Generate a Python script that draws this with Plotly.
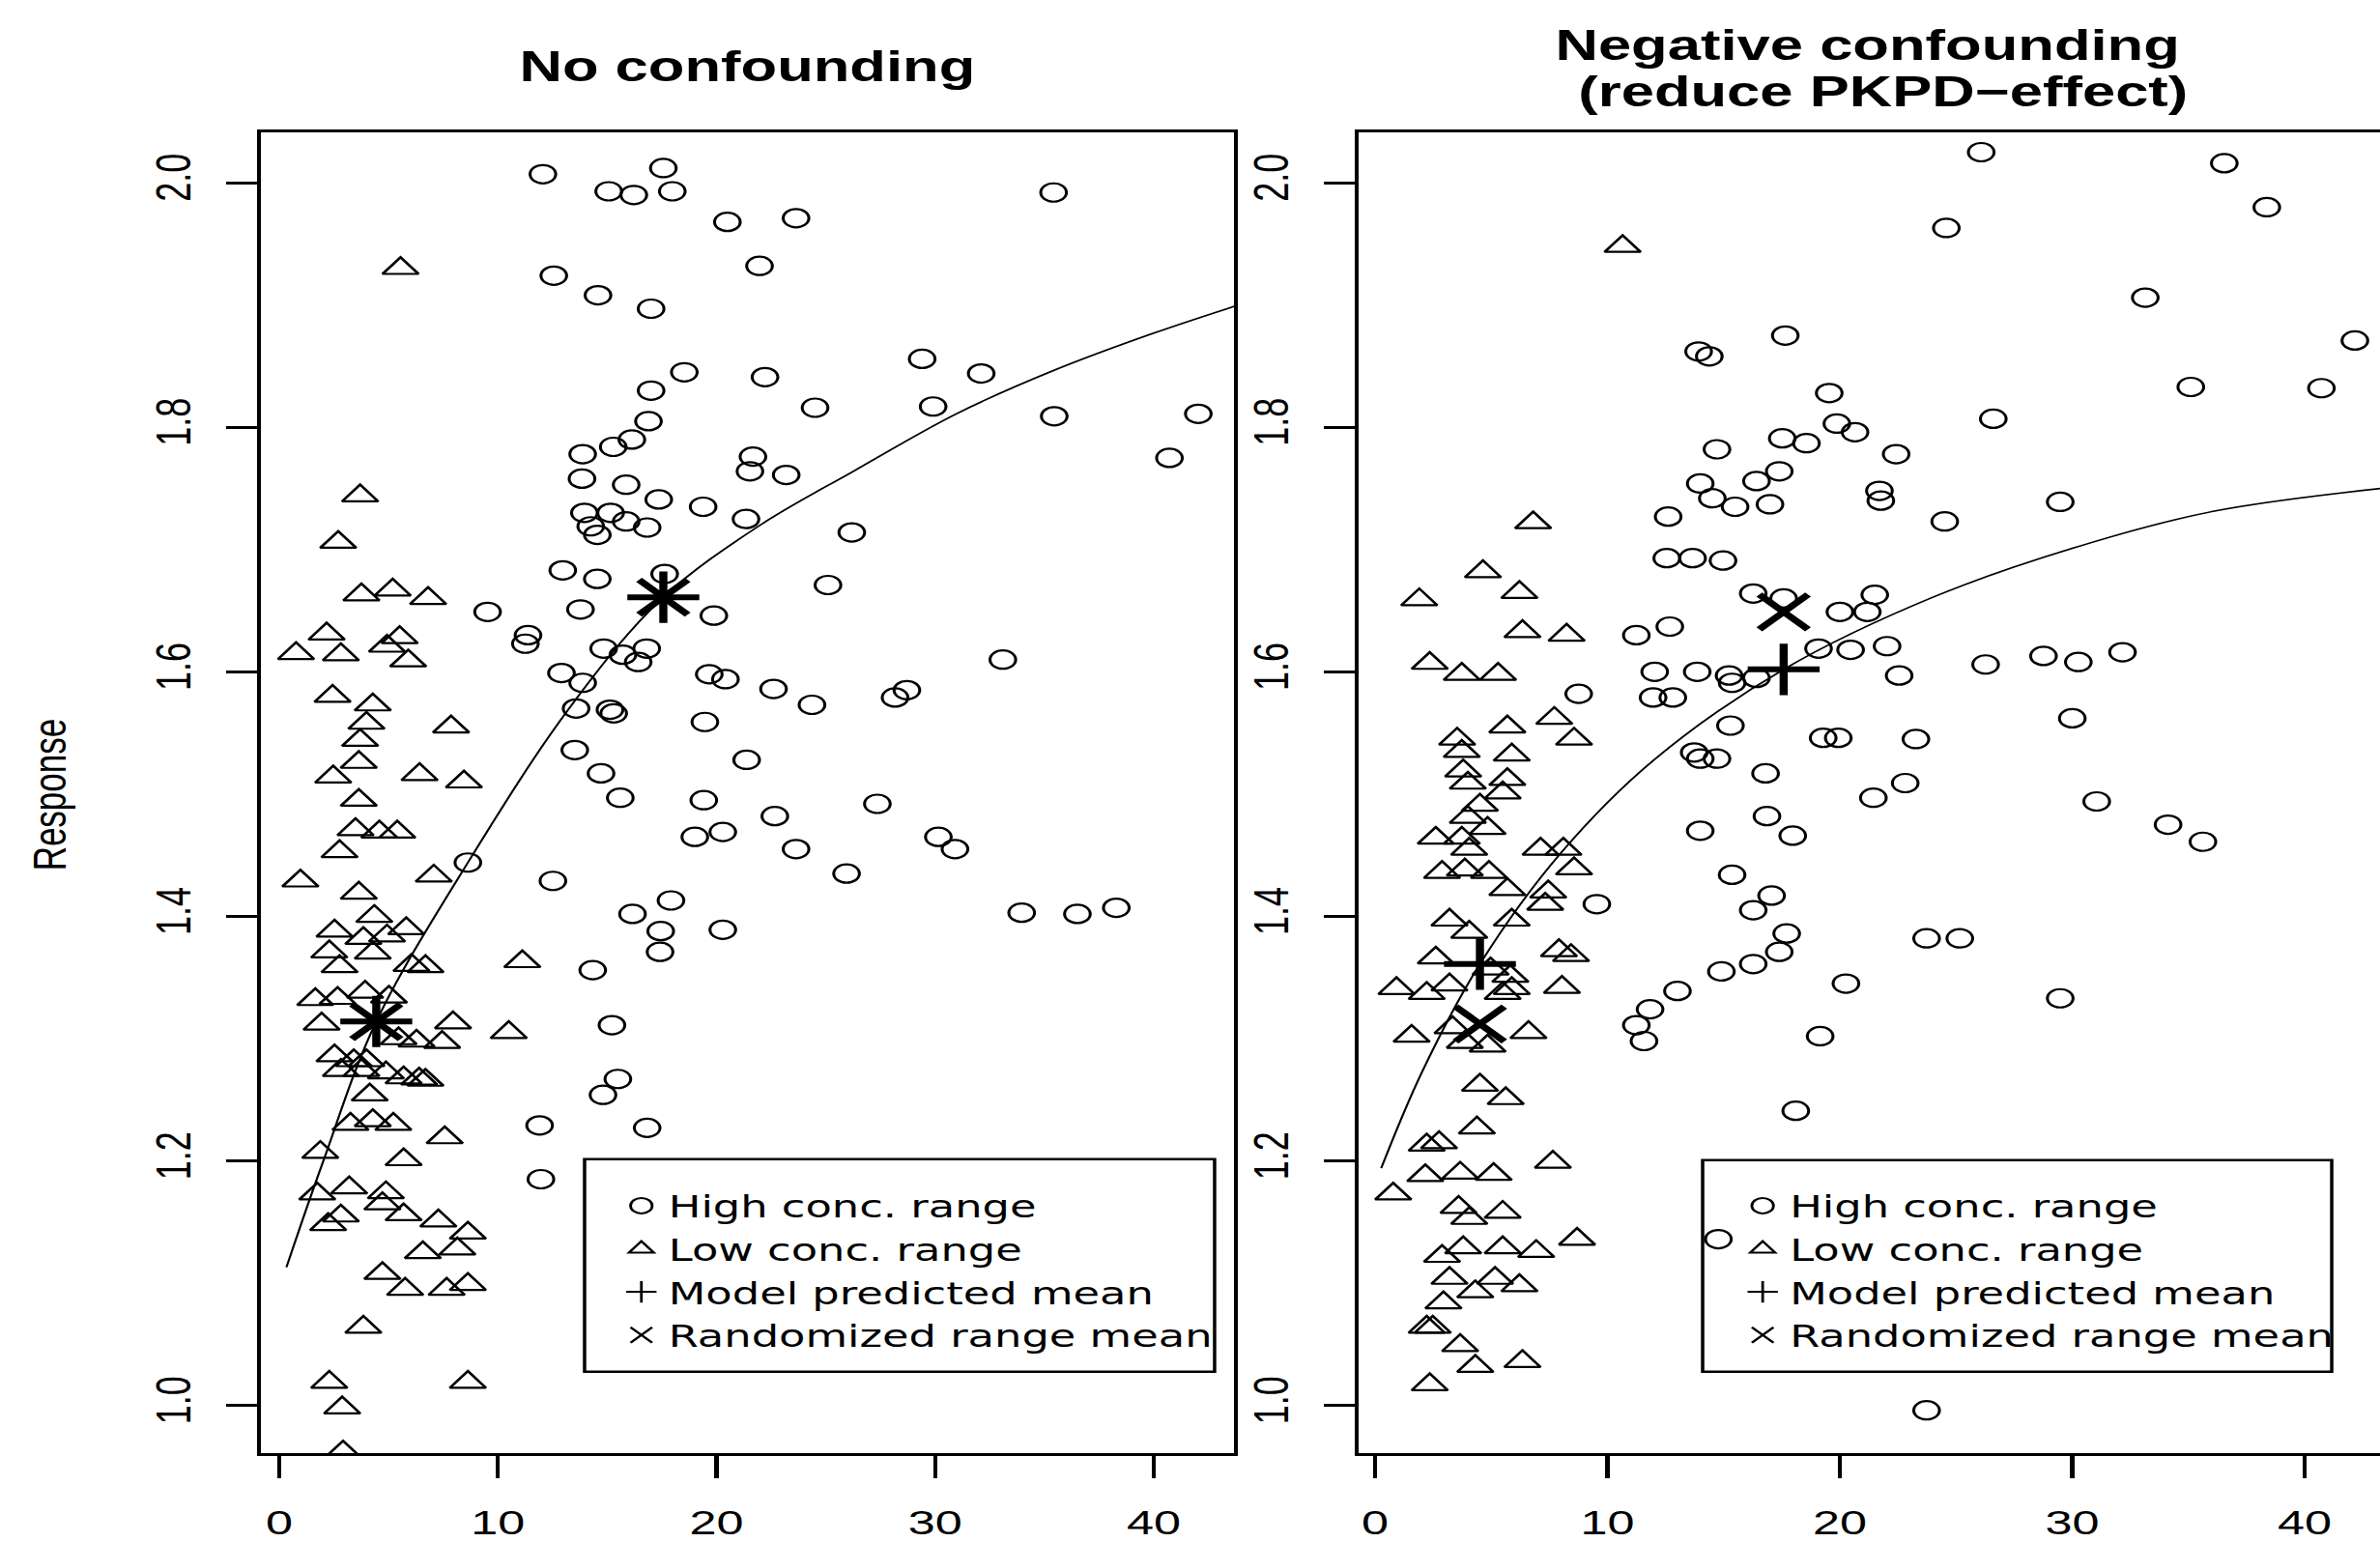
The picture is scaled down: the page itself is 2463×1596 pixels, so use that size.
import plotly.graph_objects as go

# ------------------------------------------------------------------ data
x_ticks = [0, 10, 20, 30, 40]
y_ticks = [1.0, 1.2, 1.4, 1.6, 1.8, 2.0]
legend_names = ["High conc. range", "Low conc. range", "Model predicted mean", "Randomized range mean"]

# Left panel: "No confounding"
left_high_x = [12.06, 17.57, 15.07, 16.22, 17.98, 20.50, 23.64, 35.42, 21.97, 12.56, 14.58, 17.01,
               29.41, 32.11, 18.53, 22.22, 17.01, 24.51, 29.91, 35.45, 42.04, 40.72, 16.89, 16.13,
               15.28, 13.88, 21.67, 21.53, 23.19, 13.85, 15.87, 17.36, 19.39, 21.35, 13.96, 15.16,
               15.87, 16.83, 14.25, 14.55, 26.19, 12.97, 14.55, 17.63, 25.10, 9.53, 13.78, 19.88,
               11.38, 11.26, 14.84, 15.72, 16.81, 16.42, 33.10, 12.91, 13.88, 19.67, 20.41, 22.61,
               24.37, 28.17, 28.71, 13.58, 15.13, 15.30, 19.47, 13.52, 14.72, 15.60, 21.38, 19.42,
               22.67, 27.36, 19.01, 20.29, 23.64, 30.15, 30.91, 25.95, 8.63, 12.52, 16.16, 17.92,
               17.45, 20.29, 17.42, 33.96, 36.51, 38.29, 14.34, 15.22, 15.49, 14.81, 11.91, 16.83,
               11.97]
left_high_y = [2.007, 2.012, 1.993, 1.990, 1.993, 1.968, 1.971, 1.992, 1.932, 1.924, 1.908, 1.897,
               1.856, 1.844, 1.845, 1.841, 1.830, 1.816, 1.817, 1.809, 1.811, 1.775, 1.805, 1.790,
               1.784, 1.778, 1.776, 1.764, 1.761, 1.758, 1.753, 1.741, 1.735, 1.725, 1.730, 1.730,
               1.723, 1.718, 1.719, 1.712, 1.714, 1.683, 1.676, 1.680, 1.671, 1.649, 1.651, 1.646,
               1.630, 1.623, 1.619, 1.614, 1.619, 1.608, 1.610, 1.599, 1.591, 1.598, 1.594, 1.586,
               1.573, 1.579, 1.585, 1.570, 1.569, 1.566, 1.559, 1.536, 1.517, 1.497, 1.528, 1.495,
               1.482, 1.492, 1.465, 1.469, 1.455, 1.465, 1.455, 1.435, 1.444, 1.429, 1.402, 1.413,
               1.388, 1.389, 1.371, 1.403, 1.402, 1.407, 1.356, 1.311, 1.267, 1.254, 1.229, 1.227,
               1.185]
left_low_x = [5.55, 3.70, 2.70, 3.76, 5.19, 6.81, 2.17, 5.51, 4.93, 0.77, 2.82, 5.90, 2.44, 4.28,
              3.99, 7.86, 3.70, 3.64, 2.47, 6.42, 8.45, 3.64, 3.49, 4.58, 5.40, 2.76, 0.97, 3.64,
              7.07, 4.35, 2.53, 3.85, 4.93, 5.81, 2.29, 4.28, 2.76, 6.05, 6.69, 11.12, 1.65, 2.67,
              3.93, 5.02, 1.94, 7.95, 10.50, 5.46, 6.28, 7.45, 2.53, 3.41, 3.99, 2.82, 3.76, 4.88,
              5.69, 6.40, 6.69, 4.14, 3.26, 4.28, 5.22, 7.57, 1.88, 5.69, 1.74, 3.20, 4.88, 2.82,
              2.24, 4.72, 5.69, 7.28, 8.63, 6.57, 8.15, 4.72, 5.76, 7.66, 8.63, 3.85, 2.29, 8.63,
              2.88, 2.92]
left_low_y = [1.930, 1.744, 1.706, 1.663, 1.667, 1.660, 1.631, 1.628, 1.621, 1.615, 1.614, 1.609,
              1.580, 1.573, 1.558, 1.555, 1.544, 1.526, 1.514, 1.516, 1.510, 1.495, 1.471, 1.469,
              1.469, 1.453, 1.429, 1.419, 1.433, 1.400, 1.388, 1.382, 1.384, 1.390, 1.371, 1.370,
              1.359, 1.360, 1.359, 1.363, 1.332, 1.333, 1.338, 1.334, 1.312, 1.313, 1.305, 1.300,
              1.298, 1.297, 1.286, 1.282, 1.282, 1.274, 1.274, 1.272, 1.268, 1.267, 1.266, 1.254,
              1.230, 1.233, 1.230, 1.219, 1.207, 1.201, 1.173, 1.178, 1.174, 1.155, 1.148, 1.165,
              1.156, 1.151, 1.141, 1.125, 1.128, 1.108, 1.095, 1.095, 1.099, 1.064, 1.019, 1.019,
              0.998, 0.962]
left_model_x = [17.57, 4.44]
left_model_y = [1.661, 1.314]
left_rand_x = [17.57, 4.44]
left_rand_y = [1.661, 1.314]
left_curve_x = [0.33, 2.0, 4.44, 8.63, 13.38, 17.57, 22.0, 26.26, 30.97, 35.36, 40.0, 43.7]
left_curve_y = [1.113, 1.199, 1.314, 1.444, 1.573, 1.661, 1.720, 1.764, 1.811, 1.846, 1.877, 1.899]

# Right panel: "Negative confounding (reduce PKPD-effect)"
right_high_x = [26.08, 36.54, 38.37, 24.58, 33.14, 42.16, 40.72, 35.10, 17.65, 13.92, 14.38, 19.54,
                19.87, 20.65, 18.56, 17.52, 26.60, 22.42, 14.71, 17.39, 16.41, 13.99, 29.48, 14.51,
                15.49, 16.99, 21.70, 21.76, 12.61, 24.51, 12.55, 13.66, 14.97, 21.50, 20.00, 21.18,
                16.27, 17.58, 11.24, 12.68, 12.03, 13.86, 11.96, 12.81, 15.23, 15.36, 16.41, 19.08,
                20.46, 22.03, 22.55, 28.76, 30.26, 32.16, 26.27, 8.76, 13.73, 13.99, 14.71, 15.29,
                16.80, 19.28, 19.93, 23.27, 22.81, 21.44, 30.00, 31.05, 34.12, 35.62, 9.54, 13.99,
                15.36, 16.86, 17.97, 17.06, 16.27, 17.71, 17.39, 14.90, 16.27, 23.73, 25.16, 20.26,
                13.01, 11.83, 11.24, 11.57, 29.48, 19.15, 18.10, 14.77, 23.73]
right_high_y = [2.025, 2.016, 1.980, 1.963, 1.906, 1.871, 1.832, 1.833, 1.875, 1.862, 1.858, 1.828,
                1.803, 1.796, 1.787, 1.791, 1.807, 1.778, 1.782, 1.764, 1.756, 1.754, 1.739, 1.742,
                1.735, 1.737, 1.748, 1.740, 1.727, 1.723, 1.693, 1.693, 1.691, 1.663, 1.649, 1.649,
                1.664, 1.660, 1.630, 1.637, 1.600, 1.600, 1.579, 1.579, 1.597, 1.591, 1.595, 1.619,
                1.618, 1.621, 1.597, 1.613, 1.608, 1.616, 1.606, 1.582, 1.534, 1.529, 1.529, 1.556,
                1.517, 1.546, 1.546, 1.545, 1.509, 1.497, 1.562, 1.494, 1.475, 1.461, 1.410, 1.470,
                1.434, 1.482, 1.466, 1.417, 1.405, 1.386, 1.371, 1.355, 1.361, 1.382, 1.382, 1.345,
                1.339, 1.324, 1.311, 1.298, 1.333, 1.302, 1.241, 1.136, 0.996]
right_low_x = [10.65, 1.90, 2.35, 4.64, 6.80, 6.21, 6.34, 8.24, 3.73, 5.29, 3.53, 3.73, 3.79, 3.99,
               5.69, 5.88, 5.69, 5.49, 7.71, 8.56, 4.51, 3.99, 3.73, 4.84, 2.61, 4.05, 7.12, 8.10,
               2.88, 3.86, 4.90, 8.56, 5.69, 7.32, 7.45, 3.20, 4.05, 5.88, 7.91, 8.43, 2.61, 4.97,
               5.82, 0.92, 2.22, 3.20, 8.04, 5.49, 5.88, 1.57, 3.33, 3.86, 6.60, 4.84, 4.51, 5.62,
               4.38, 2.22, 2.75, 7.65, 2.16, 3.66, 5.10, 0.78, 3.59, 5.49, 4.05, 8.69, 3.79, 5.49,
               6.93, 2.88, 3.20, 5.16, 4.31, 6.21, 2.94, 2.48, 2.22, 3.66, 4.31, 6.34, 2.35]
right_low_y = [1.948, 1.659, 1.607, 1.682, 1.722, 1.665, 1.633, 1.630, 1.598, 1.598, 1.545, 1.535,
               1.519, 1.509, 1.555, 1.532, 1.512, 1.501, 1.562, 1.545, 1.491, 1.481, 1.464, 1.472,
               1.464, 1.455, 1.455, 1.455, 1.436, 1.438, 1.436, 1.439, 1.422, 1.410, 1.420, 1.397,
               1.387, 1.397, 1.372, 1.368, 1.366, 1.357, 1.351, 1.341, 1.337, 1.344, 1.342, 1.337,
               1.341, 1.302, 1.309, 1.297, 1.305, 1.294, 1.262, 1.251, 1.227, 1.213, 1.215, 1.199,
               1.188, 1.190, 1.189, 1.173, 1.162, 1.158, 1.153, 1.136, 1.129, 1.129, 1.126, 1.122,
               1.104, 1.104, 1.093, 1.098, 1.084, 1.064, 1.064, 1.049, 1.032, 1.036, 1.017]
right_model_x = [17.58, 4.51]
right_model_y = [1.602, 1.361]
right_rand_x = [17.58, 4.51]
right_rand_y = [1.649, 1.312]
right_curve_x = [0.26, 2.0, 4.51, 8.0, 12.0, 17.58, 24.0, 30.0, 36.0, 43.3]
right_curve_y = [1.194, 1.272, 1.361, 1.452, 1.528, 1.602, 1.661, 1.701, 1.731, 1.750]

# ------------------------------------------------------------------ figure
W, H = 1760, 1596
STRETCH = 2463 / W
FONT = "Liberation Sans, Arial, Helvetica, sans-serif"
LEG_FONT = "DejaVu Sans, Liberation Sans, sans-serif"

fig = go.Figure()


def add_panel(xa, ya, leg, hx, hy, lx, ly, mx, my, rx, ry, cx, cy):
    fig.add_trace(go.Scatter(x=cx, y=cy, mode="lines", xaxis=xa, yaxis=ya, showlegend=False,
                             line=dict(color="black", width=1.6, shape="spline"), hoverinfo="skip"))
    fig.add_trace(go.Scatter(x=hx, y=hy, mode="markers", xaxis=xa, yaxis=ya, showlegend=False,
                             marker=dict(symbol="circle-open", size=19, color="black",
                                         line=dict(width=2.2))))
    fig.add_trace(go.Scatter(x=lx, y=ly, mode="markers", xaxis=xa, yaxis=ya, showlegend=False,
                             marker=dict(symbol="triangle-up-open", size=23, color="black",
                                         line=dict(width=2.2))))
    fig.add_trace(go.Scatter(x=mx, y=my, mode="markers", xaxis=xa, yaxis=ya, showlegend=False,
                             marker=dict(symbol="cross-thin-open", size=38, color="black",
                                         line=dict(width=6))))
    fig.add_trace(go.Scatter(x=rx, y=ry, mode="markers", xaxis=xa, yaxis=ya, showlegend=False,
                             marker=dict(symbol="x-thin-open", size=36, color="black",
                                         line=dict(width=6))))
    # legend entries (thin symbols, as in the key)
    for name, sym in zip(legend_names, ["circle-open", "triangle-up-open", "cross-thin-open", "x-thin-open"]):
        fig.add_trace(go.Scatter(x=[None], y=[None], mode="markers", xaxis=xa, yaxis=ya, name=name,
                                 legend=leg, showlegend=True,
                                 marker=dict(symbol=sym, size=16, color="black", line=dict(width=2))))


add_panel("x", "y", "legend", left_high_x, left_high_y, left_low_x, left_low_y,
          left_model_x, left_model_y, left_rand_x, left_rand_y, left_curve_x, left_curve_y)
add_panel("x2", "y2", "legend2", right_high_x, right_high_y, right_low_x, right_low_y,
          right_model_x, right_model_y, right_rand_x, right_rand_y, right_curve_x, right_curve_y)

ydom = [85 / H, 1458 / H]
axis_common = dict(showline=True, linecolor="black", linewidth=3, ticks="outside", ticklen=23,
                   tickwidth=2.5, tickcolor="black", showgrid=False, zeroline=False,
                   tickfont=dict(family=FONT, size=36, color="black"), fixedrange=True)

fig.update_layout(
    width=W, height=H, margin=dict(l=0, r=0, t=0, b=0),
    paper_bgcolor="white", plot_bgcolor="white",
    font=dict(family=FONT, color="black", size=36),
    xaxis=dict(domain=[192.9 / W, 912.5 / W], range=[-0.84, 43.67], tickvals=x_ticks,
               ticktext=[str(v) for v in x_ticks], mirror=True, anchor="y",
               ticklabelstandoff=14, **axis_common),
    yaxis=dict(domain=ydom, range=[0.9607, 2.0409], tickvals=y_ticks,
               ticktext=[f"{v:.1f}" for v in y_ticks], tickangle=-90, mirror=True, anchor="x",
               ticklabelstandoff=12, **axis_common),
    xaxis2=dict(domain=[1004.7 / W, 1.0], range=[-0.71, 43.24], tickvals=x_ticks,
                ticktext=[str(v) for v in x_ticks], mirror=True, anchor="y2",
                ticklabelstandoff=14, **axis_common),
    yaxis2=dict(domain=ydom, range=[0.9607, 2.0409], tickvals=y_ticks,
                ticktext=[f"{v:.1f}" for v in y_ticks], tickangle=-90, mirror=False, anchor="x2",
                ticklabelstandoff=12, **axis_common),
    legend=dict(x=(497.3 - 43) / W, y=1 - 1226 / H, xanchor="left", yanchor="top",
                bgcolor="rgba(0,0,0,0)", borderwidth=0,
                font=dict(family=LEG_FONT, size=32, color="black")),
    legend2=dict(x=(1324.5 - 41) / W, y=1 - 1226 / H, xanchor="left", yanchor="top",
                 bgcolor="rgba(0,0,0,0)", borderwidth=0,
                 font=dict(family=LEG_FONT, size=32, color="black")),
    shapes=[
        dict(type="rect", xref="paper", yref="paper", x0=432.3 / W, x1=898.2 / W,
             y0=1 - 1426 / H, y1=1 - 1205 / H, line=dict(color="black", width=2.5)),
        dict(type="rect", xref="paper", yref="paper", x0=1259.1 / W, x1=1724.3 / W,
             y0=1 - 1426 / H, y1=1 - 1206 / H, line=dict(color="black", width=2.5)),
    ],
    annotations=[
        dict(text="<b>No confounding</b>", xref="paper", yref="paper", x=552.7 / W, y=1 - 69 / H,
             xanchor="center", yanchor="middle", showarrow=False, font=dict(family=FONT, size=44)),
        dict(text="<b>Negative confounding</b>", xref="paper", yref="paper", x=1380.6 / W,
             y=1 - 47 / H, xanchor="center", yanchor="middle", showarrow=False,
             font=dict(family=FONT, size=44)),
        dict(text="<b>(reduce PKPD\u2212effect)</b>", xref="paper", yref="paper", x=1392.7 / W,
             y=1 - 95 / H, xanchor="center", yanchor="middle", showarrow=False,
             font=dict(family=FONT, size=44)),
        dict(text="Response", xref="paper", yref="paper", x=36 / W, y=1 - 826 / H, textangle=-90,
             xanchor="center", yanchor="middle", showarrow=False, font=dict(family=FONT, size=35)),
    ],
)

post = """
var gd = document.getElementById('{plot_id}');
document.documentElement.style.margin = '0';
document.body.style.margin = '0';
document.body.style.overflow = 'hidden';
gd.style.transformOrigin = '0 0';
gd.style.transform = 'scaleX(%.5f)';
""" % STRETCH

fig.write_html("out.html", config={"displayModeBar": False}, post_script=post)
